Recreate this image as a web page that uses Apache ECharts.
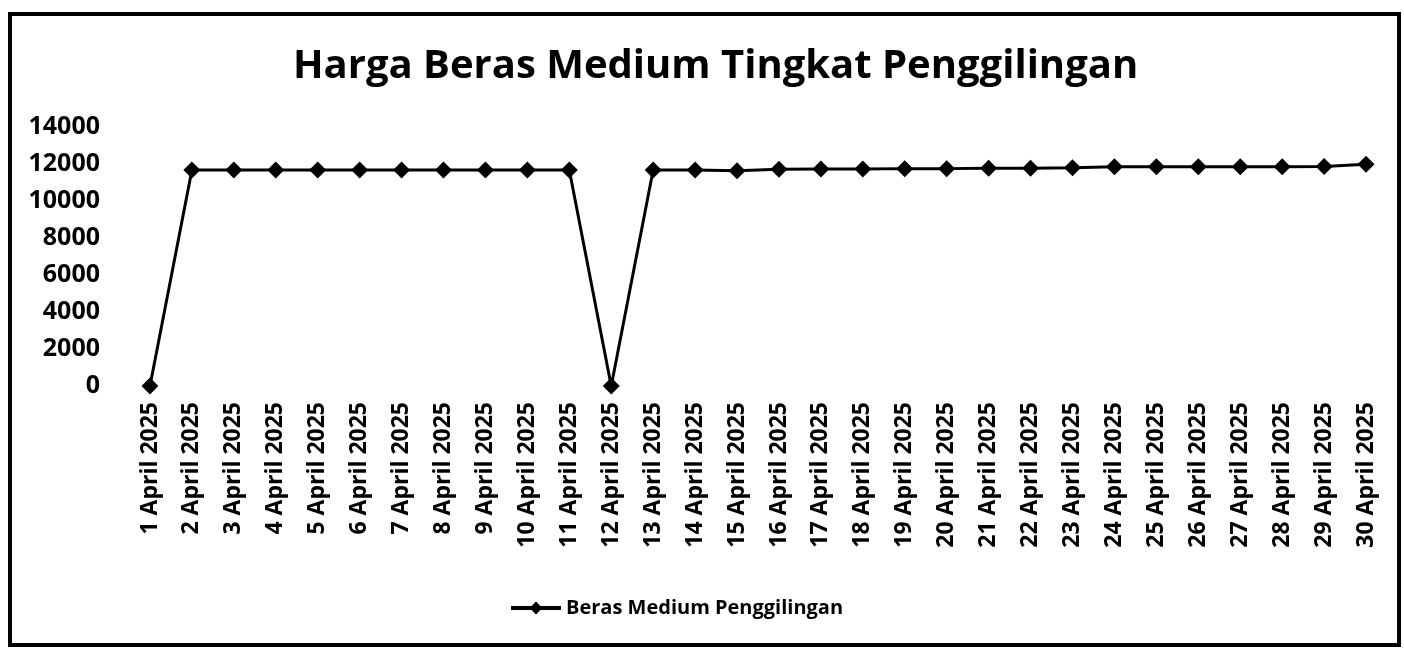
<!DOCTYPE html>
<html>
<head>
<meta charset="utf-8">
<script src="https://cdn.jsdelivr.net/npm/echarts@6/dist/echarts.min.js"></script>
<style>
    html, body { margin: 0; padding: 0; background: #fff; }
    #chart { width: 1404px; height: 649px; }
</style>
</head>
<body>
<div id="chart"></div>
<script>
var days = [];
for (var d = 1; d <= 30; d++) {
    days.push(d + ' April 2025');
}

var seriesName = 'Beras Medium Penggilingan';

// harga per hari (Rp/kg)
var hargaMedium = [
    0, 11680, 11680, 11680, 11680, 11680, 11680, 11680, 11680, 11680,
    11680, 0, 11680, 11680, 11640, 11710, 11730, 11730, 11750, 11750,
    11770, 11770, 11800, 11850, 11850, 11850, 11850, 11850, 11870, 11980
];

var yTicks = { min: 0, max: 14000, interval: 2000 };

var chart = echarts.init(document.getElementById('chart'));

var option = {
    backgroundColor: '#fff',
    animation: false,

    title: {
        text: 'Harga Beras Medium Tingkat Penggilingan',
        left: 288,
        top: 42,
        textStyle: {
            fontFamily: 'Open Sans',
            fontWeight: 'bold',
            fontSize: 40,
            color: '#000'
        }
    },

    legend: {
        bottom: 26,
        left: 504,
        itemWidth: 50,
        itemHeight: 16,
        itemGap: 3,
        data: [seriesName],
        itemStyle: { color: '#000' },
        lineStyle: { color: '#000', width: 4 },
        textStyle: {
            fontFamily: 'Open Sans',
            fontWeight: 'bold',
            fontSize: 20,
            color: '#000'
        }
    },

    grid: {
        top: 127,
        bottom: 263,
        left: 129,
        right: 17
    },

    xAxis: {
        type: 'category',
        data: days,
        axisLine: { show: false },
        axisTick: { show: false },
        axisLabel: {
            rotate: 90,
            interval: 0,
            margin: 16,
            fontFamily: 'Open Sans',
            fontWeight: 'bold',
            fontSize: 23,
            color: '#000'
        }
    },

    yAxis: {
        type: 'value',
        min: yTicks.min,
        max: yTicks.max,
        interval: yTicks.interval,
        splitLine: { show: false },
        axisLine: { show: false },
        axisTick: { show: false },
        axisLabel: {
            margin: 29,
            formatter: function (v) { return String(v); },
            fontFamily: 'Open Sans',
            fontWeight: 'bold',
            fontSize: 25,
            color: '#000'
        }
    },

    graphic: [
        {
            type: 'rect',
            shape: { x: 10, y: 14, width: 1389, height: 631 },
            style: { fill: 'none', stroke: '#000', lineWidth: 4 },
            silent: true
        }
    ],

    series: [
        {
            name: seriesName,
            type: 'line',
            data: hargaMedium,
            symbol: 'diamond',
            symbolSize: 17,
            showAllSymbol: true,
            lineStyle: { color: '#000', width: 3 },
            itemStyle: { color: '#000' }
        }
    ]
};

chart.setOption(option);
</script>
</body>
</html>
